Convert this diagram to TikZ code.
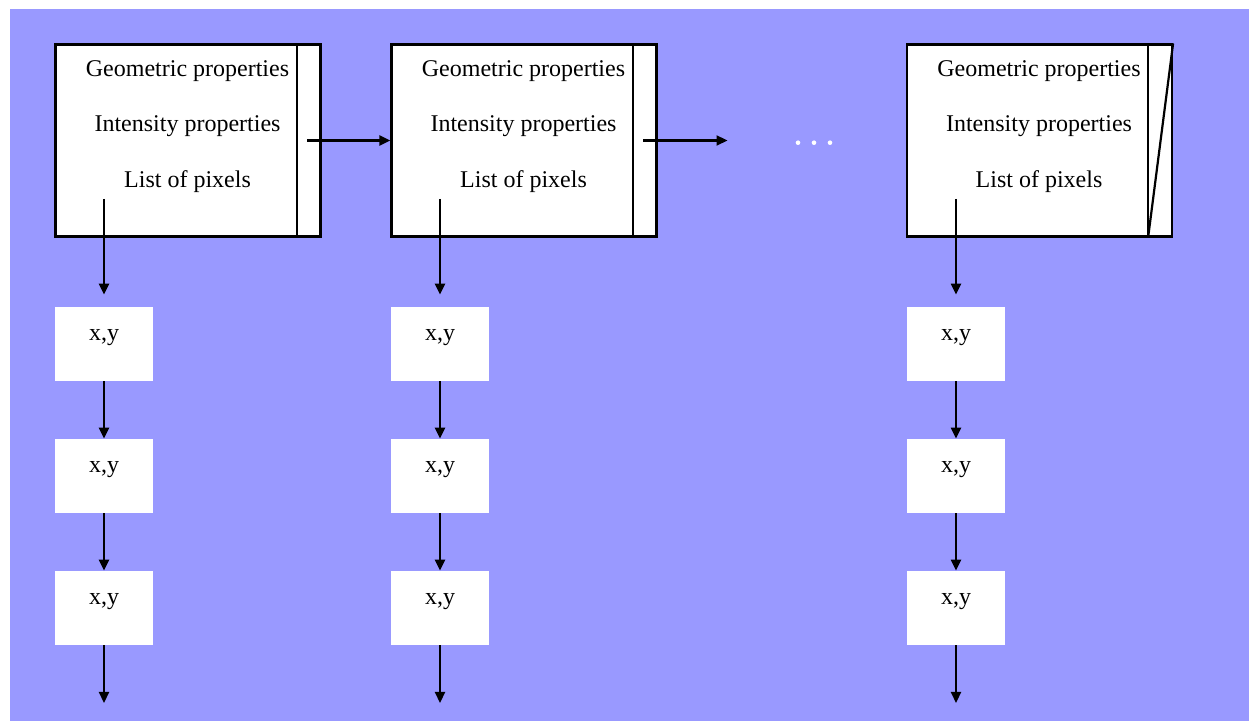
\documentclass[tikz,border=0pt]{standalone}
\usepackage{fontspec}
\setmainfont{Liberation Serif}
\usetikzlibrary{arrows.meta,calc}
\definecolor{bgblue}{RGB}{153,153,255}
\begin{document}
\begin{tikzpicture}[x=0.5pt,y=-0.5pt,
  bigbox/.style={draw=black,line width=1.1pt,fill=white,minimum width=132.5pt,minimum height=96pt,inner sep=0pt},
  proptext/.style={anchor=base,inner sep=0pt,font=\fontsize{12pt}{14pt}\selectfont},
  cellbox/.style={fill=white,inner sep=0pt,minimum width=49.3pt,text height=17pt,text depth=20pt,font=\fontsize{12pt}{14pt}\selectfont},
  link/.style={line width=1.1pt,-{Triangle[length=5.5pt,width=5pt]}},
  stripline/.style={line width=1.1pt}]
\useasboundingbox (0,0) rectangle (1249,721);
\fill[white] (0,0) rectangle (1249,721);
\fill[bgblue] (9.5,9.5) rectangle (1249,721);

% record boxes
\node[bigbox] (r1) at (188,140.5) {};
\node[bigbox] (r2) at (524,140.5) {};
\node[bigbox] (r3) at (1039.5,140.5) {};

\foreach \r/\cx in {r1/188,r2/524,r3/1039.5}{
  \node[proptext] (\r g) at (\cx-0.5,77) {Geometric properties};
  \node[proptext] (\r i) at (\cx-0.5,132) {Intensity properties};
  \node[proptext] (\r l) at (\cx-0.5,188) {List of pixels};
  \draw[stripline] ($(\r.north east)+(-25,0)$) -- ($(\r.south east)+(-25,0)$);
}
\draw[stripline] ($(r3.south east)+(-25,0)$) -- (r3.north east);

% pixel cells
\foreach \c/\cx in {1/104,2/440,3/956}{
  \node[cellbox] (a\c1) at (\cx,344) {x,y};
  \node[cellbox] (a\c2) at (\cx,476) {x,y};
  \node[cellbox] (a\c3) at (\cx,608) {x,y};
  \coordinate (p\c) at (\cx,199);
  \coordinate (e\c) at (\cx,703);
  \draw[link,shorten >=6pt] (p\c) -- (a\c1.north);
  \draw[link] (a\c1.south) -- (a\c2.north);
  \draw[link] (a\c2.south) -- (a\c3.north);
  \draw[link] (a\c3.south) -- (e\c);
}

% horizontal links
\coordinate (s1) at (307,140.5);
\coordinate (s2) at (643,140.5);
\coordinate (gapend) at (727.5,140.5);
\draw[link] (s1) -- (r2.west);
\draw[link] (s2) -- (gapend);

% ellipsis dots
\foreach \dx in {798,814,830}{
  \fill[white] (\dx,142.7) circle (1.15pt);
}
\end{tikzpicture}
\end{document}
